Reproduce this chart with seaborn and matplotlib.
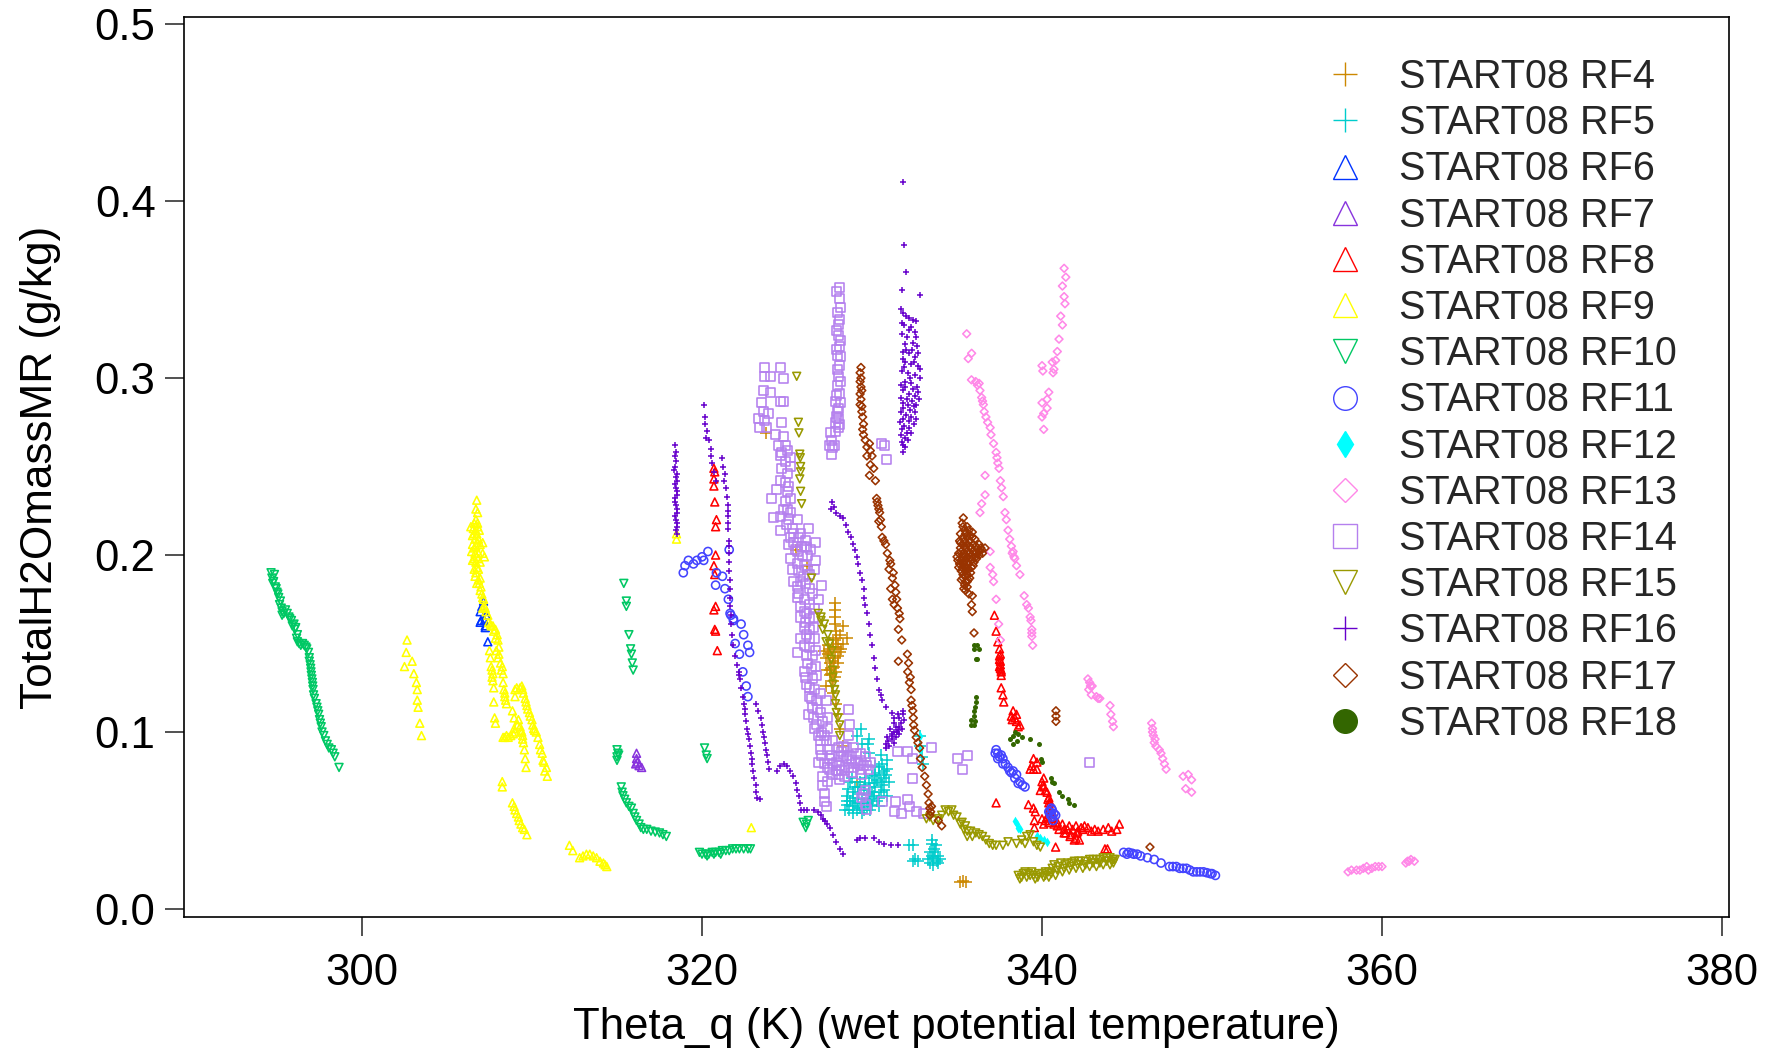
import pandas as pd
import seaborn as sns
import matplotlib.pyplot as plt
from matplotlib.lines import Line2D

# values: (theta_q K, total H2O g/kg)
rf4 = [(327.8,.173),(327.85,.169),(327.8,.165),(327.85,.161),(328.3,.160),(327.9,.157),(328.5,.153),(328.1,.155),(327.7,.152),
       (328.3,.150),(327.4,.149),(327.9,.148),(327.2,.146),(327.6,.145),(328.1,.145),(327.3,.142),(327.8,.142),(327.5,.139),
       (328.0,.139),(327.6,.136),(327.9,.134),(327.5,.132),(327.7,.129),(327.3,.126),(327.7,.122),(327.9,.116),(328.0,.110),
       (328.1,.102),(328.3,.092),(323.75,.269),(325.55,.203),(326.15,.194),(335.2,.015),(335.35,.016),(335.55,.015),(329.1,.072),
       (327.45,.147),(327.7,.148),(328.0,.150),(327.4,.144),(327.7,.140),(328.0,.143),(327.5,.135),(327.75,.137),(327.6,.133),
       (327.8,.131),(327.65,.126),(327.35,.135),(327.9,.153),(328.2,.147)]
rf5 = [(329.35,.102),(329.1,.098),(329.8,.096),(329.75,.093),(329.4,.093),(330.5,.087),(329.8,.088),(330.9,.084),(330.6,.082),
       (330.2,.081),(330.9,.079),(330.4,.077),(329.6,.074),(330.0,.075),(330.7,.074),(331.0,.072),(328.8,.074),(329.3,.072),
       (330.1,.071),(330.6,.070),(328.6,.068),(329.0,.069),(329.5,.067),(330.0,.066),(330.5,.066),(328.5,.064),(328.9,.063),
       (329.4,.062),(329.9,.062),(330.3,.061),(328.5,.059),(328.9,.058),(329.3,.057),(329.7,.058),(328.4,.056),(328.9,.054),
       (329.4,.054),(332.8,.098),(332.85,.092),(332.95,.086),(333.0,.082),(332.2,.036),(332.4,.036),(332.55,.028),(332.4,.027),
       (332.7,.027),(333.3,.028),(333.6,.029),(333.9,.030),(333.4,.032),(333.65,.034),(333.5,.037),(333.55,.039),
       (328.7,.072),(328.9,.066),(329.2,.065),(329.6,.070),(329.8,.065),(330.2,.069),(330.4,.063),(330.7,.067),(330.9,.064),
       (328.7,.061),(329.15,.060),(329.55,.060),(330.0,.059),(330.4,.058),(328.65,.056),(329.1,.056),(329.5,.056),(329.9,.056),
       (329.2,.069),(330.1,.064),(330.3,.073),(330.8,.076),(330.5,.072),(329.8,.071),(330.2,.076),(330.7,.078),(330.4,.080),
       (328.5,.061),(329.0,.060),(329.75,.060),(333.7,.032),(333.5,.030),(333.8,.027),(333.4,.026),(333.6,.025),(333.9,.026),
       (334.0,.028),(333.75,.036)]
rf6 = [(307.15,.174),(307.05,.171),(306.95,.168),(307.3,.166),(307.0,.163),(307.2,.163),(306.95,.162),(307.25,.160),(307.25,.159),(307.4,.151)]
rf7 = [(316.15,.088),(316.15,.085),(316.2,.083),(316.1,.082),(316.3,.081),(316.45,.080)]
rf8 = [(320.7,.249),(320.75,.247),(320.7,.243),(320.7,.239),(320.75,.230),(320.85,.220),(320.8,.216),(320.8,.200),(320.7,.194),
       (320.75,.189),(320.8,.171),(320.7,.169),(320.75,.158),(320.8,.157),(320.9,.146),(337.2,.166),(337.3,.157),(337.4,.151),
       (337.5,.147),(337.55,.144),(337.5,.141),(337.55,.138),(337.6,.135),(337.6,.132),(337.6,.125),(337.7,.121),(337.75,.117),
       (338.3,.112),(338.2,.109),(338.5,.110),(338.5,.106),(338.7,.104),(337.3,.060),(339.2,.059),(339.5,.057),(339.6,.055),
       (339.5,.085),(339.7,.083),(339.4,.081),(339.5,.079),(339.3,.079),(339.7,.079),(340.0,.072),(340.1,.069),(339.9,.067),
       (340.3,.066),(340.4,.063),(340.5,.060),(340.45,.057),(340.6,.055),(340.3,.052),(340.6,.051),(339.55,.050),(339.55,.046),
       (340.0,.051),(340.4,.049),(340.9,.049),(341.2,.048),(341.6,.047),(342.0,.047),(342.3,.046),(342.7,.046),(343.3,.044),
       (343.9,.046),(344.55,.048),(344.4,.045),(344.1,.044),(341.4,.043),(341.65,.041),(342.0,.040),(342.2,.039),(341.0,.045),
       (340.8,.035),(343.7,.034),(343.85,.034),
       (337.5,.143),(337.55,.140),(337.5,.137),(337.55,.136),(337.6,.134),(338.25,.107),(338.4,.108),(338.6,.103),(340.1,.074),
       (340.05,.070),(340.2,.067),(340.35,.062),(340.4,.060),(340.5,.055),(340.2,.050),(340.35,.052),(340.7,.048),(340.1,.048),
       (340.9,.047),(341.3,.045),(341.5,.045),(341.8,.045),(342.1,.044),(342.5,.047),(341.7,.042),(342.05,.043),(341.3,.043),
       (341.9,.039),(342.4,.045),(342.9,.044),(343.1,.045),(343.6,.045)]
rf9 = [(306.75,.231),(306.7,.226),(306.8,.224),(306.7,.220),(306.8,.218),(306.4,.216),(306.55,.215),(306.7,.214),(306.9,.214),
       (306.5,.211),(306.65,.209),(306.85,.209),(306.5,.206),(306.7,.205),(306.95,.206),(307.1,.207),(306.45,.202),(306.65,.201),
       (306.85,.201),(307.1,.201),(307.2,.199),(306.5,.197),(306.7,.196),(306.95,.196),(306.6,.192),(306.85,.192),(306.65,.188),
       (306.95,.187),(306.75,.184),(307.0,.182),(307.05,.178),(307.15,.175),(307.1,.170),(307.3,.168),(307.4,.166),(307.45,.162),
       (307.6,.160),(307.7,.160),(307.85,.158),(307.95,.155),(308.0,.152),(308.05,.148),(307.5,.146),(307.9,.146),(307.55,.142),
       (308.0,.142),(308.15,.139),(307.6,.137),(308.2,.135),(307.7,.133),(308.3,.133),(307.7,.129),(308.3,.128),(307.75,.125),
       (308.35,.124),(308.4,.120),(308.5,.116),(307.75,.117),(307.8,.108),(307.85,.105),(308.85,.112),(308.95,.108),(309.0,.124),
       (309.0,.120),(309.3,.125),(309.45,.124),(309.6,.119),(309.7,.115),(309.85,.111),(310.0,.107),(310.1,.102),(310.25,.100),
       (310.45,.093),(310.6,.088),(310.65,.084),(310.85,.080),(310.9,.075),(309.2,.107),(309.3,.103),(309.4,.100),(309.45,.096),
       (309.5,.094),(309.6,.085),(309.65,.080),(308.3,.097),(308.6,.097),(308.9,.099),(309.0,.100),(308.25,.072),(308.25,.069),
       (308.85,.060),(309.0,.056),(309.2,.052),(309.35,.048),(309.55,.045),(309.7,.042),(312.2,.036),(312.4,.033),(313.0,.030),
       (313.4,.031),(313.8,.029),(314.2,.026),(314.4,.024),(302.65,.152),(302.6,.145),(302.5,.137),(302.95,.140),(303.05,.133),
       (303.2,.128),(303.25,.124),(303.25,.118),(303.3,.114),(303.4,.105),(303.5,.098),(318.5,.212),(318.5,.209),(322.9,.046),
       (306.6,.218),(306.8,.216),(306.6,.212),(306.75,.212),(306.8,.207),(306.6,.204),(306.75,.199),(306.6,.198),(306.85,.198),
       (306.75,.193),(306.7,.190),(306.85,.186),(306.9,.184),(306.95,.180),(307.1,.176),(307.2,.171),(307.25,.170),(307.55,.161),
       (307.75,.157),(307.85,.153),(308.05,.144),(307.65,.135),(308.25,.137),(307.65,.131),(308.4,.122),(308.45,.118),(309.1,.125),
       (309.4,.126),(309.5,.122),(309.65,.117),(309.75,.113),(309.9,.109),(310.05,.104),(310.15,.101),(310.35,.097),(310.5,.090),
       (310.7,.083),(310.75,.078),(308.4,.097),(308.5,.098),(308.75,.098),(308.95,.102),(309.15,.104),(309.35,.101),(309.45,.098),
       (309.55,.090),(308.95,.058),(309.1,.054),(309.25,.050),(309.45,.046),(312.8,.029),(313.2,.031),(313.6,.030),(314.0,.027),
       (314.3,.025)]
rf10 = [(294.65,.190),(294.7,.187),(294.85,.189),(294.75,.184),(294.9,.182),(295.0,.179),(295.1,.176),(295.15,.172),(295.25,.170),
        (295.3,.166),(295.5,.169),(295.7,.165),(295.85,.163),(296.0,.161),(296.1,.159),(296.2,.155),(296.2,.151),(296.4,.149),
        (296.6,.149),(296.75,.147),(296.9,.142),(296.95,.138),(297.0,.134),(297.05,.130),(297.1,.126),(297.15,.121),(297.3,.116),
        (297.4,.112),(297.5,.107),(297.6,.103),(297.75,.098),(297.95,.093),(298.2,.090),(298.4,.086),(298.65,.080),
        (315.4,.184),(315.55,.174),(315.55,.171),(315.7,.155),(315.8,.147),(315.85,.144),(315.9,.139),(315.95,.135),
        (315.0,.090),(315.05,.088),(315.0,.086),(315.1,.087),(315.0,.084),(315.25,.069),(315.35,.064),(315.55,.060),(315.85,.057),
        (316.05,.052),(316.3,.048),(316.55,.045),(317.0,.044),(317.5,.043),(317.9,.041),
        (319.85,.032),(320.2,.031),(320.6,.032),(321.0,.032),(321.4,.033),(321.8,.034),(322.2,.034),(322.7,.034),
        (320.15,.091),(320.25,.087),(320.3,.085),(325.95,.049),(326.15,.048),(326.1,.046),(326.25,.050),
        (294.8,.185),(294.95,.181),(295.05,.178),(295.2,.174),(295.3,.168),(295.4,.167),(295.6,.167),(295.75,.164),(295.9,.160),
        (296.05,.158),(296.15,.153),(296.3,.150),(296.5,.150),(296.7,.148),(296.85,.145),(296.9,.140),(296.98,.136),(297.02,.132),
        (297.08,.128),(297.12,.124),(297.2,.119),(297.35,.114),(297.45,.110),(297.55,.105),(297.65,.100),(297.85,.095),(298.05,.091),
        (298.3,.088),(315.3,.066),(315.45,.062),(315.7,.058),(315.95,.054),(316.15,.050),(316.4,.046),(316.75,.045),(317.25,.0435),
        (317.7,.042),(320.0,.031),(320.4,.031),(320.8,.032),(321.2,.033),(321.6,.033),(322.0,.034),(322.45,.034),(322.85,.034),
        (320.3,.030),(320.7,.031),(321.1,.031)]
rf11 = [(318.9,.190),(319.0,.194),(319.2,.197),(319.5,.195),(319.7,.197),(320.0,.199),(320.35,.202),(320.1,.197),(321.6,.203),
        (320.85,.190),(321.2,.188),(320.8,.183),(321.35,.181),(321.55,.175),(321.65,.167),(321.85,.164),(321.7,.166),(321.85,.163),
        (322.3,.161),(322.45,.155),(322.7,.149),(322.8,.145),(321.95,.150),(322.2,.144),(322.4,.134),(322.6,.126),(322.7,.120),
        (337.3,.090),(337.4,.088),(337.5,.086),(337.7,.085),(337.85,.082),(338.0,.080),(338.3,.078),(338.5,.076),(338.7,.072),
        (339.0,.069),(340.4,.055),(340.6,.056),(340.7,.054),(340.5,.053),(340.8,.053),(340.6,.052),
        (344.8,.032),(345.1,.032),(345.4,.031),(345.8,.030),(346.2,.029),(346.6,.028),(347.0,.026),(347.5,.024),(347.9,.024),
        (348.3,.023),(348.7,.022),(349.1,.021),(349.5,.021),(349.9,.020),(350.2,.019),
        (345.0,.031),(345.3,.0315),(345.6,.031),(347.7,.024),(348.1,.023),(348.5,.023),(348.9,.021),(349.3,.021),(349.7,.0205),
        (350.0,.020),(337.25,.088),(337.6,.087),(337.4,.085),(337.7,.082),(338.1,.078),(338.2,.077),(338.4,.074),(338.6,.071),
        (338.85,.070),(340.55,.057),(340.45,.055),(340.65,.050)]
rf12 = [(332.85,.098),(332.85,.090),(338.4,.050),(338.5,.048),(338.6,.046),(338.7,.045),(339.7,.041),(339.9,.040),(340.1,.039),(340.3,.038)]
rf13 = [(335.57,.325),(335.86,.314),(335.66,.311),(335.85,.299),(336.1,.298),(336.3,.297),(336.35,.293),(336.45,.289),(336.55,.285),
        (336.6,.281),(336.8,.275),(336.95,.272),(337.15,.263),(337.3,.258),(337.35,.255),(337.47,.249),(337.55,.242),(337.62,.238),
        (337.72,.233),(337.82,.224),(337.9,.220),(338.0,.214),(338.2,.205),(338.3,.202),(338.4,.198),(338.5,.194),(338.7,.189),
        (338.95,.177),(339.1,.172),(339.2,.170),(339.3,.165),(339.4,.158),(339.4,.154),(339.45,.149),
        (336.65,.245),(336.65,.234),(336.45,.229),(336.35,.224),(336.95,.202),(336.95,.193),(337.1,.189),(337.15,.185),(337.3,.175),
        (337.45,.161),(337.55,.152),
        (341.3,.362),(341.4,.357),(341.2,.352),(341.3,.346),(341.35,.342),(341.1,.335),(341.2,.330),(341.0,.322),(340.9,.315),
        (340.8,.310),(340.7,.305),(340.6,.309),(340.65,.303),(340.0,.307),(340.05,.304),(340.3,.288),(340.4,.292),(340.0,.286),
        (340.3,.283),(340.1,.280),(340.0,.278),(340.1,.271),
        (342.7,.130),(342.8,.128),(342.95,.126),(342.75,.124),(342.9,.121),(343.2,.120),(343.4,.119),(344.0,.115),(344.05,.110),
        (344.15,.106),(344.2,.103),(346.45,.105),(346.5,.102),(346.55,.098),(346.6,.094),(346.9,.090),(347.1,.085),(347.3,.079),
        (348.3,.075),(348.6,.076),(348.8,.073),(348.45,.068),(348.8,.066),
        (358.0,.021),(358.5,.022),(358.9,.023),(359.2,.022),(359.6,.024),(360.0,.024),(361.4,.026),(361.7,.028),(361.9,.027),
        (336.2,.296),(336.5,.287),(336.7,.278),(337.0,.268),(337.4,.252),(338.1,.209),(338.25,.201),(338.35,.199),(339.35,.163),
        (339.4,.156),(358.2,.022),(358.7,.022),(359.4,.023),(359.8,.024),(359.1,.024),(361.5,.027),(361.6,.027),(346.5,.100),
        (346.65,.096),(346.7,.092),(347.0,.088),(347.2,.082),(342.85,.126),(343.3,.119)]
rf14 = [(323.7,.306),(324.6,.306),(323.7,.301),(324.0,.301),(324.8,.300),(323.6,.293),(324.0,.292),(323.5,.286),(324.6,.287),
        (324.8,.287),(323.6,.281),(323.9,.280),(323.3,.277),(323.7,.276),(324.7,.275),(323.4,.272),(323.8,.272),(324.3,.268),
        (324.8,.267),(324.5,.262),(325.0,.259),(324.6,.256),(325.2,.255),(324.7,.249),(325.2,.250),(324.6,.242),(324.4,.237),
        (324.1,.232),(325.1,.239),(325.2,.232),(324.2,.221),(324.6,.222),(324.8,.226),(325.2,.224),(325.6,.220),(324.6,.214),
        (325.3,.215),(325.8,.212),(326.25,.215),(326.65,.207),(325.4,.207),(326.0,.205),(325.6,.202),(326.7,.197),(325.2,.198),
        (325.3,.192),(325.6,.195),(326.2,.200),(326.35,.189),(327.0,.183),(325.4,.185),(325.8,.185),(326.35,.181),(326.85,.175),
        (325.6,.176),(325.8,.171),(326.15,.167),(325.8,.165),(326.55,.165),(326.0,.159),(326.55,.159),(325.8,.153),(326.35,.153),
        (325.6,.145),(326.65,.146),(326.15,.143),(326.0,.134),(326.65,.137),(326.15,.127),(326.75,.132),(326.35,.120),(326.95,.122),
        (327.3,.118),(328.6,.113),(326.25,.110),(326.95,.111),(327.4,.108),(326.75,.104),(327.4,.102),(328.7,.104),(326.85,.098),
        (328.6,.098),(326.95,.090),(327.4,.090),(328.3,.092),(328.9,.091),(326.85,.083),(327.7,.082),(328.5,.085),(329.3,.084),
        (329.9,.083),(327.1,.075),(328.1,.073),(328.8,.077),(329.3,.079),(327.2,.065),(329.5,.065),(329.6,.059),(329.7,.056),
        (327.5,.085),(328.0,.086),(328.2,.079),(327.7,.076),(328.6,.080),(329.0,.083),(329.5,.081),(328.4,.075),(327.4,.072),
        (331.5,.089),(332.1,.089),(332.4,.085),(333.5,.091),(332.4,.074),(335.0,.085),(335.6,.087),(335.3,.079),(330.6,.061),
        (331.4,.061),(331.3,.055),(331.75,.054),(332.1,.062),(332.2,.058),(332.6,.055),(333.0,.054),(342.8,.083),
        (328.1,.351),(328.1,.345),(327.95,.337),(328.05,.330),(328.0,.324),(328.1,.318),(327.95,.313),(328.1,.307),(328.05,.301),
        (327.95,.296),(328.1,.291),(327.85,.287),(328.05,.283),(327.9,.278),(328.1,.274),(327.85,.270),(328.0,.272),(327.6,.265),
        (327.7,.261),(327.6,.257),(327.8,.262),(330.57,.263),(330.72,.262),(330.86,.254),
        (324.9,.262),(324.7,.258),(324.9,.253),(325.0,.246),(324.9,.241),(325.0,.236),(324.9,.230),(325.0,.226),(325.1,.220),
        (324.95,.217),(325.2,.210),(325.1,.206),(325.4,.212),(325.7,.210),(325.5,.203),(325.85,.205),(326.1,.208),(325.9,.200),
        (326.15,.204),(326.4,.203),(325.7,.191),(326.0,.194),(325.95,.188),(326.2,.192),(326.6,.192),(325.6,.182),(326.1,.184),
        (326.5,.178),(325.7,.178),(326.0,.175),(326.3,.172),(326.6,.170),(326.0,.168),(326.3,.164),(326.1,.162),(326.35,.158),
        (326.15,.155),(326.6,.153),(326.0,.149),(326.3,.148),(326.5,.143),(326.2,.139),(326.45,.136),(326.1,.131),(326.5,.130),
        (326.3,.125),(326.6,.124),(326.45,.119),(326.75,.118),(326.5,.114),(326.8,.113),(326.55,.108),(327.1,.106),(326.6,.102),
        (327.0,.100),(327.2,.098),(326.95,.095),(327.3,.095),(327.65,.095),(328.0,.091),(327.0,.087),(327.2,.082),(327.4,.080),
        (327.6,.087),(327.9,.083),(328.1,.081),(328.3,.086),(328.7,.087),(329.1,.088),(327.9,.078),(328.4,.078),(328.9,.080),
        (329.2,.082),(329.7,.081),(327.1,.070),(327.2,.061),(327.3,.058),(327.5,.079),(328.0,.076),(329.8,.079),(329.4,.076),
        (328.8,.084),(328.2,.089),(328.5,.091),(329.3,.088),(329.6,.086),(329.4,.063),(329.6,.067),
        (327.9,.349),(328.15,.340),(328.1,.333),(327.9,.327),(328.15,.321),(327.9,.316),(328.15,.312),(327.95,.305),(328.15,.298),
        (327.9,.290),(328.15,.286),(327.95,.281),(327.85,.275),(328.05,.277),(327.5,.262),(327.55,.269)]
rf15 = [(325.57,.301),(325.67,.275),(325.7,.269),(325.75,.257),(325.78,.255),(325.8,.250),(325.8,.247),(325.75,.243),(325.8,.236),
        (325.86,.229),(326.45,.187),(326.84,.167),(327.0,.165),(327.2,.161),(327.4,.155),(327.65,.146),(327.68,.135),(327.7,.127),
        (327.85,.121),(327.85,.116),(327.9,.111),(328.1,.104),(328.1,.098),
        (333.2,.051),(333.6,.050),(334.3,.056),(334.1,.053),(334.8,.053),(335.3,.049),(335.5,.047),(335.6,.044),(336.1,.043),
        (336.5,.041),(337.1,.036),(337.7,.036),(338.5,.037),(339.1,.041),(339.5,.038),(339.9,.035),
        (338.6,.019),(338.7,.017),(339.0,.021),(339.1,.018),(339.5,.019),(339.6,.017),(340.0,.020),(340.1,.018),(340.4,.021),
        (340.4,.018),(340.7,.025),(340.8,.019),(341.1,.026),(341.2,.021),(341.5,.026),(341.6,.022),(341.9,.027),(342.0,.023),
        (342.3,.027),(342.4,.023),(342.8,.028),(342.8,.024),(343.2,.028),(343.2,.024),(343.6,.029),(343.6,.025),(344.0,.029),
        (344.0,.025),(344.2,.028),(344.2,.026),
        (338.8,.018),(338.9,.020),(339.2,.020),(339.3,.019),(339.4,.021),(339.75,.018),(339.8,.020),(340.2,.019),(340.2,.021),
        (340.55,.020),(340.6,.023),(340.9,.022),(340.95,.024),(341.3,.023),(341.35,.025),(341.7,.024),(341.75,.026),(342.1,.025),
        (342.15,.027),(342.55,.025),(342.55,.027),(343.0,.026),(343.0,.028),(343.4,.026),(343.4,.028),(343.8,.027),(343.8,.029),
        (344.1,.027),(344.3,.028),(333.4,.052),(333.9,.051),(334.5,.055),(334.7,.056),(335.0,.052),(335.2,.048),(335.4,.045),
        (335.8,.044),(335.6,.041),(335.9,.041),(336.3,.042),(336.7,.039),(336.9,.037),(337.3,.036),(338.0,.038),(338.8,.039),
        (339.3,.042),(339.0,.037),(339.7,.036),(327.0,.163),(327.1,.158),(327.3,.151),(327.5,.150),(327.6,.141),(327.7,.131),
        (327.8,.124),(328.0,.108)]
rf16 = [(331.8,.411),(331.87,.375),(332.0,.360),(332.8,.347),(331.75,.350),(331.7,.339),(331.85,.337),(332.2,.334),(331.9,.330),
        (332.3,.329),(332.5,.326),(331.75,.325),(332.05,.323),(332.4,.320),(332.65,.318),(331.8,.315),(332.2,.314),(332.5,.312),
        (331.95,.309),(332.3,.308),(332.7,.307),(331.75,.304),(332.1,.303),(332.5,.302),(332.8,.300),(331.95,.298),(332.3,.297),
        (332.65,.295),(331.8,.293),(332.2,.291),(332.5,.290),(332.75,.288),(331.85,.286),(332.1,.285),(332.45,.284),(331.7,.281),
        (332.0,.279),(332.3,.278),(332.6,.277),(331.65,.275),(331.9,.273),(332.15,.272),(331.7,.268),(331.95,.266),(331.85,.262),
        (331.85,.258),
        (318.4,.262),(318.45,.253),(318.35,.248),(318.45,.244),(318.4,.240),(318.5,.236),(318.4,.232),(318.45,.228),(318.5,.224),
        (318.45,.220),(318.5,.216),
        (320.1,.285),(320.15,.278),(320.3,.270),(320.25,.266),(320.5,.260),(320.6,.252),(320.8,.242),(321.2,.255),(321.25,.250),
        (321.35,.246),(321.4,.238),(321.5,.228),(321.5,.222),(321.55,.215),(321.6,.208),(321.6,.201),(321.6,.196),(321.6,.191),
        (321.65,.181),(321.65,.171),(321.7,.161),(321.84,.149),(322.04,.138),(322.15,.134),(322.23,.130),(322.39,.120),(322.5,.113),
        (322.6,.106),(322.7,.099),(322.82,.092),(322.92,.085),(323.02,.078),(323.15,.070),(323.25,.063),(323.4,.062),
        (323.2,.116),(323.45,.108),(323.6,.100),(323.7,.094),(323.8,.087),(323.96,.079),
        (324.4,.078),(324.8,.082),(325.2,.078),(325.5,.071),(325.7,.064),(325.8,.056),(326.2,.056),(326.6,.056),(327.0,.053),
        (327.23,.050),(327.5,.046),(327.9,.038),(328.3,.031),
        (327.66,.230),(327.6,.226),(327.9,.224),(328.3,.221),(328.6,.213),(328.9,.206),(329.1,.199),(329.3,.190),(329.5,.181),
        (329.6,.172),(329.8,.161),(330.0,.149),(330.2,.136),(330.4,.124),(330.6,.118),(331.15,.111),
        (331.8,.112),(331.6,.108),(331.9,.107),(331.3,.105),(331.6,.103),(331.05,.102),(331.3,.100),(331.6,.099),(330.9,.097),
        (331.15,.096),(331.4,.097),(330.8,.093),
        (329.1,.039),(329.3,.040),(329.6,.040),(330.1,.040),(330.4,.038),(330.7,.037),(331.1,.036),(331.55,.036),
        (332.0,.335),(332.4,.333),(331.75,.331),(332.15,.327),(332.6,.323),(331.95,.319),(332.35,.316),(332.7,.314),(331.85,.311),
        (332.45,.309),(332.8,.305),(331.9,.306),(332.25,.300),(331.95,.295),(332.4,.294),(332.7,.292),(331.7,.289),(332.05,.288),
        (332.35,.287),(332.6,.285),(331.8,.283),(332.25,.282),(332.55,.281),(331.8,.277),(332.15,.276),(332.45,.274),(331.75,.271),
        (332.05,.269),(332.3,.269),(331.75,.264),(332.1,.265),(331.95,.261),(331.7,.296),(332.0,.316),(332.6,.332),
        (318.45,.258),(318.4,.256),(318.4,.250),(318.5,.246),(318.5,.242),(318.45,.238),(318.5,.234),(318.4,.230),(318.5,.226),
        (318.4,.222),(318.5,.218),(318.45,.214),(318.5,.212),
        (320.2,.274),(320.4,.265),(320.55,.256),(320.7,.247),(321.3,.242),(321.45,.233),(321.55,.225),(321.55,.218),(321.6,.205),
        (321.65,.186),(321.65,.176),(321.7,.166),(321.75,.155),(321.95,.143),(322.15,.132),(322.3,.125),(322.45,.116),(322.55,.110),
        (322.65,.102),(322.75,.096),(322.87,.088),(322.97,.082),(323.08,.074),(323.2,.066),
        (323.3,.112),(323.55,.104),(323.65,.097),(323.75,.090),(323.9,.083),
        (324.6,.081),(325.0,.081),(325.35,.075),(325.6,.067),(325.75,.060),(326.0,.056),(326.8,.055),(327.1,.051),(327.35,.048),
        (327.7,.042),(328.1,.034),
        (327.75,.227),(328.1,.222),(328.45,.217),(328.75,.210),(329.0,.203),(329.2,.195),(329.4,.186),(329.55,.176),(329.7,.167),
        (329.9,.155),(330.1,.142),(330.3,.130),(330.5,.121),(330.85,.114),
        (331.5,.110),(331.7,.105),(331.4,.103),(331.15,.099),(331.45,.100),(331.75,.102),(330.95,.095),(331.2,.098),(330.85,.091),
        (331.0,.092),(331.3,.094),(331.55,.101),(331.85,.110),(331.3,.108)]
rf17 = [(329.35,.306),(329.3,.303),(329.35,.300),(329.35,.295),(329.3,.291),(329.35,.288),(329.3,.285),(329.4,.281),(329.45,.278),
        (329.5,.274),(329.5,.268),(329.85,.263),(329.6,.265),(329.7,.261),(329.9,.259),(329.7,.256),(330.0,.256),(329.9,.251),
        (330.1,.249),(329.85,.245),(330.2,.242),(330.27,.232),(330.35,.228),(330.45,.224),(330.4,.219),(330.55,.216),(330.6,.210),
        (330.8,.206),(331.05,.197),(331.1,.195),(331.2,.187),(331.1,.181),(331.4,.179),(331.2,.175),(331.5,.170),(331.64,.164),
        (331.55,.158),(331.75,.152),(331.55,.140),(332.08,.144),(332.1,.134),(332.2,.128),(332.3,.118),(332.4,.112),(332.43,.108),
        (332.5,.101),(332.8,.091),(332.85,.085),(333.1,.075),(333.3,.065),(333.4,.057),(333.45,.055),(333.9,.050),(334.1,.047),
        (335.37,.221),(335.35,.216),(335.6,.216),(335.2,.212),(335.5,.212),(335.9,.213),(335.15,.208),(335.45,.208),(335.75,.208),
        (336.05,.209),(335.2,.204),(335.5,.204),(335.85,.204),(336.2,.204),(336.65,.204),(335.0,.199),(335.3,.199),(335.6,.199),
        (335.95,.199),(336.3,.200),(335.15,.195),(335.4,.195),(335.7,.195),(336.0,.196),(335.25,.191),(335.5,.191),(335.8,.190),
        (335.35,.187),(335.65,.186),(335.45,.183),(335.5,.180),(335.7,.178),(335.9,.177),(335.85,.172),(335.9,.168),(336.0,.156),
        (340.82,.112),(340.82,.109),(340.82,.106),(346.35,.035),
        (335.3,.218),(335.7,.214),(335.35,.210),(335.6,.210),(335.9,.210),(335.3,.206),(335.6,.206),(335.95,.206),(336.3,.206),
        (336.45,.203),(335.1,.201),(335.4,.201),(335.75,.201),(336.1,.201),(336.5,.201),(335.05,.197),(335.25,.197),(335.5,.197),
        (335.85,.197),(336.15,.198),(335.3,.193),(335.55,.193),(335.85,.193),(335.1,.193),(335.35,.189),(335.6,.189),(335.25,.186),
        (335.5,.185),(335.6,.182),(335.4,.181),
        (329.3,.298),(329.4,.293),(329.4,.284),(329.45,.271),(330.3,.230),(330.4,.226),(330.5,.220),(330.7,.208),(330.9,.201),
        (331.0,.192),(331.25,.190),(331.35,.183),(331.45,.175),(331.3,.172),(331.6,.167),(332.15,.139),(332.25,.131),(332.3,.124),
        (332.35,.115),(332.45,.104),(332.6,.097),(332.7,.094),(332.95,.080),(333.2,.070),(333.35,.060),(333.4,.053),(333.5,.058),
        (335.45,.214),(335.8,.211),(335.2,.207),(335.45,.205),(335.75,.205),(336.1,.205),(336.4,.204),(335.25,.202),(335.6,.202),
        (335.95,.202),(336.3,.202),(335.45,.199),(335.8,.199),(336.1,.199),(335.35,.196),(335.6,.196),(335.95,.194),(335.45,.193),
        (335.7,.192),(335.5,.188),(335.75,.187),(335.6,.185)]
rf18 = [(336.0,.149),(336.2,.149),(336.3,.147),(336.0,.147),(336.1,.141),(336.2,.141),(336.1,.120),(336.1,.117),(336.05,.114),
        (336.0,.112),(336.0,.109),(335.85,.107),(336.05,.106),(335.85,.104),(336.0,.104),(338.3,.098),(338.4,.100),(338.1,.096),
        (338.6,.099),(338.5,.095),(338.3,.093),(338.8,.097),(339.3,.096),(339.85,.093),(339.95,.085),(340.0,.083),(340.5,.074),
        (340.7,.071),(340.6,.072),(341.0,.066),(341.2,.064),(341.5,.062),(341.6,.060),(341.9,.059)]

flights = ['RF4', 'RF5', 'RF6', 'RF7', 'RF8', 'RF9', 'RF10', 'RF11', 'RF12', 'RF13', 'RF14', 'RF15', 'RF16', 'RF17', 'RF18']
all_data = [rf4, rf5, rf6, rf7, rf8, rf9, rf10, rf11, rf12, rf13, rf14, rf15, rf16, rf17, rf18]
colors = ['#CC8800', '#00CCCC', '#0033FF', '#8833DD', '#FF0000', '#FFFF00', '#00C864', '#4444FF', '#00FFFF', '#FF88E8',
          '#B580EE', '#999900', '#6600CC', '#993300', '#336600']
markers = ['+', '+', '^', '^', '^', '^', 'v', 'o', 'd', 'D', 's', 'v', '+', 'D', 'o']
sizes = [65, 65, 32, 32, 32, 32, 32, 34, 24, 16, 42, 32, 18, 16, 13]

sns.set_theme(style='ticks')
plt.rcParams['font.family'] = ['Liberation Sans', 'DejaVu Sans']

fig = plt.figure(figsize=(17.73, 10.51), dpi=100)
ax = fig.add_axes([184 / 1773, 1 - 917 / 1051, (1729 - 184) / 1773, (917 - 17) / 1051])

handles = []
for flight, pts, c, m, s in zip(flights, all_data, colors, markers, sizes):
    df = pd.DataFrame(pts, columns=['theta', 'h2o'])
    if m == '+':
        sns.scatterplot(data=df, x='theta', y='h2o', marker=m, s=s, color=c, linewidth=1.1, ax=ax)
    elif flight in ('RF12', 'RF18'):
        sns.scatterplot(data=df, x='theta', y='h2o', marker=m, s=s, color=c, edgecolor=c, linewidth=0, ax=ax)
    else:
        sns.scatterplot(data=df, x='theta', y='h2o', marker=m, s=s, facecolors='none', edgecolor=c, linewidth=1.15, ax=ax)
    filled = flight in ('RF12', 'RF18')
    ms = {'D': 12, 'd': 13}.get(m, 17)
    handles.append(Line2D([], [], linestyle='none', marker=m, color=c, markersize=ms,
                          markerfacecolor=c if filled else 'none', markeredgewidth=1,
                          label='START08 ' + flight))

ax.set_xlim(289.53, 380.41)
ax.set_ylim(-0.0045, 0.504)
ax.set_xticks([300, 320, 340, 360, 380])
ax.set_yticks([0.0, 0.1, 0.2, 0.3, 0.4, 0.5])
ax.set_yticklabels(['0.0', '0.1', '0.2', '0.3', '0.4', '0.5'])
ax.tick_params(labelsize=31.5, length=14, width=1.1, color='#222222', labelcolor='black')
ax.tick_params(axis='x', pad=12)
ax.tick_params(axis='y', pad=6.5)
for side in ax.spines:
    ax.spines[side].set_visible(True)
    ax.spines[side].set_linewidth(1.2)
    ax.spines[side].set_color('black')
ax.set_xlabel('Theta_q (K) (wet potential temperature)', fontsize=31.5, color='black', labelpad=9)
ax.set_ylabel('TotalH2OmassMR (g/kg)', fontsize=31.8, color='black', labelpad=24)

ax.legend(handles=handles, frameon=False, fontsize=28.5, loc='upper left',
          bbox_to_anchor=(1325 / 1773, 1 - 58 / 1051), bbox_transform=fig.transFigure,
          labelspacing=0.207, handlelength=1.0, handletextpad=0.87, borderpad=0, borderaxespad=0)

plt.savefig('out.png', dpi=100)
